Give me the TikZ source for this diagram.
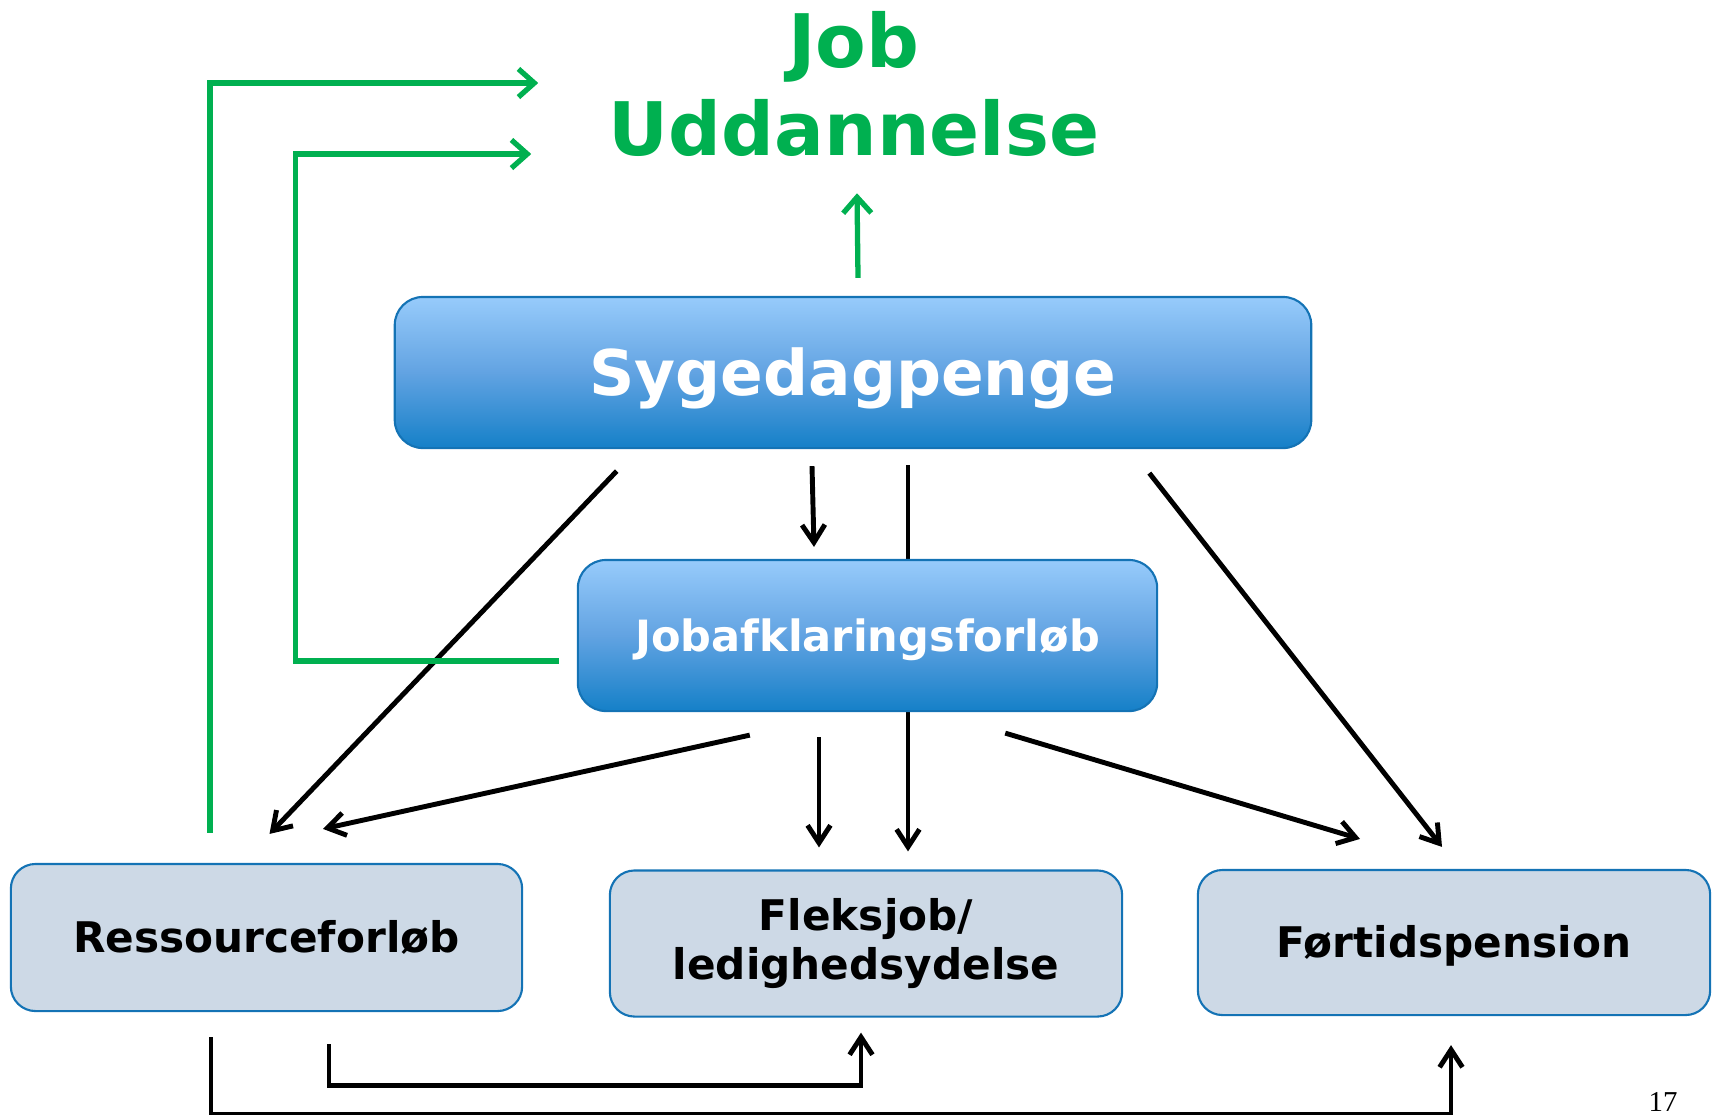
\documentclass[tikz,border=0pt]{standalone}
\usepackage{fontspec}
\setmainfont{DejaVu Sans}
\newfontfamily\pagenofont{Liberation Serif}
\usepackage{tikz}
\usetikzlibrary{arrows.meta,backgrounds}
\definecolor{boxtop}{RGB}{151,203,251}
\definecolor{boxmid}{RGB}{98,163,226}
\definecolor{boxbot}{RGB}{21,128,200}
\definecolor{boxline}{RGB}{20,115,181}
\definecolor{lightbox}{RGB}{205,217,230}
\definecolor{goalgreen}{RGB}{0,176,80}
\tikzstyle{bluebox}=[rectangle,rounded corners=8pt,draw=boxline,line width=0.6pt,top color=boxtop,bottom color=boxbot,middle color=boxmid,text=white]
\tikzstyle{greybox}=[rectangle,rounded corners=7pt,draw=boxline,line width=0.6pt,fill=lightbox,align=center,font=\bfseries\fontsize{12}{14.2}\selectfont]
\tikzstyle{arr}=[line width=1.4pt,-{Straight Barb[length=5pt,width=6.5pt]}]
\tikzstyle{garr}=[goalgreen,line width=1.5pt,-{Straight Barb[length=4.5pt,width=8pt]}]

\begin{document}
\begin{tikzpicture}[x=0.01cm,y=-0.01cm]
\useasboundingbox (0,0) rectangle (1713,1114);
% boxes
\node[bluebox, minimum width=9.16cm, minimum height=1.51cm, text height=17pt, text depth=4.2pt, font=\bfseries\fontsize{17.9}{20}\selectfont] (syg) at (853,372.5) {Sygedagpenge};
\node[bluebox, minimum width=5.79cm, minimum height=1.51cm, text height=11.8pt, text depth=2.9pt, font=\bfseries\fontsize{12.25}{14}\selectfont] (jaf) at (867.5,635.5) {Jobafklaringsforløb};
\node[greybox, minimum width=5.11cm, minimum height=1.47cm, text height=11.3pt, text depth=2.9pt] (res) at (266.5,937.5) {Ressourceforløb};
\node[greybox, minimum width=5.12cm, minimum height=1.46cm] (fleks) at (866,943.5) {Fleksjob/\\ledighedsydelse};
\node[greybox, minimum width=5.12cm, minimum height=1.45cm, text height=11.3pt, text depth=2.9pt] (ftp) at (1454,942.5) {Førtidspension};
\node[goalgreen, align=center, inner sep=0pt, font=\bfseries\fontsize{21}{25}\selectfont] (goal) at (854,84) {Job\\Uddannelse};
\node[anchor=base, inner sep=0pt, font=\pagenofont\fontsize{8.2}{9}\selectfont] (pageno) at (1663,1111) {17};

% from Sygedagpenge
\begin{scope}[on background layer]
\draw[arr] ([shift={(55,16)}]syg.south) -- ([shift={(42,-18)}]fleks.north);
\end{scope}
\draw[arr] ([shift={(223,22)}]syg.south west) -- ([shift={(3,-29)}]res.north);
\draw[arr] ([shift={(-41,17)}]syg.south) -- ([shift={(-53.5,-12)}]jaf.north);
\draw[arr] ([shift={(-163,24)}]syg.south east) -- ([shift={(-12,-22)}]ftp.north);

% from Jobafklaringsforløb
\draw[arr] ([shift={(173,23)}]jaf.south west) -- ([shift={(56.5,-34)}]res.north);
\draw[arr] ([shift={(-48.5,25)}]jaf.south) -- ([shift={(-47,-22)}]fleks.north);
\draw[arr] ([shift={(-153,21)}]jaf.south east) -- ([shift={(-94,-30)}]ftp.north);

% from Ressourceforløb
\draw[arr] ([shift={(-55.5,25)}]res.south) -- ++(0,77) -| ([shift={(-3,29)}]ftp.south);
\draw[arr] ([shift={(62.5,32)}]res.south) -- ++(0,41) -| ([shift={(-5,15)}]fleks.south);

% to Job / Uddannelse
\draw[garr] ([shift={(-56.5,-30)}]res.north) |- ([shift={(-70,-1)}]goal.west);
\draw[garr] ([shift={(-18,25.5)}]jaf.west) -- ++(-263,0) |- ([shift={(-77,70)}]goal.west);
\draw[garr] ([shift={(5,-18)}]syg.north) -- ([shift={(3,36)}]goal.south);
\end{tikzpicture}
\end{document}
